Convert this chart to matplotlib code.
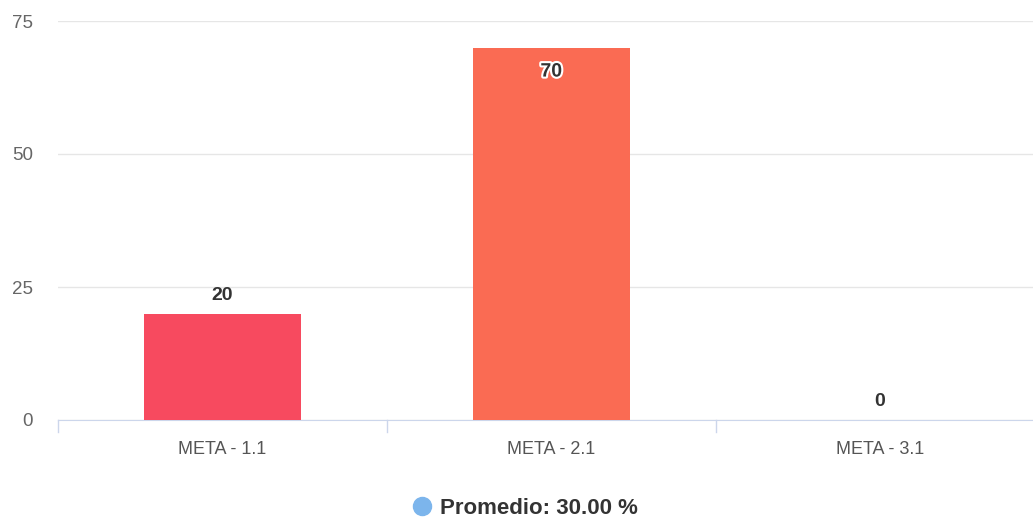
import matplotlib.pyplot as plt
import matplotlib.patheffects as pe
from matplotlib.lines import Line2D

categories = ['META - 1.1', 'META - 2.1', 'META - 3.1']
values = [20, 70, 0]
bar_colors = ['#f74a5f', '#fa6b53', '#f7a35c']
y_ticks = [0, 25, 50, 75]
legend_label = 'Promedio: 30.00 %'

plt.rcParams['font.family'] = ['Liberation Sans', 'DejaVu Sans']

fig = plt.figure(figsize=(10.33, 5.17), dpi=100)
ax = fig.add_axes([58 / 1033, 97 / 517, 1 - 58 / 1033, 399 / 517])

x = list(range(len(categories)))
ax.bar(x, values, width=0.477, color=bar_colors, zorder=3)

ax.set_ylim(0, 75)
ax.set_xlim(-0.5, 2.465)
ax.set_yticks(y_ticks)
ax.set_xticks(x)
ax.set_xticklabels(categories, fontsize=13, color='#555555')
ax.tick_params(axis='x', length=0, pad=15)
ax.tick_params(axis='y', length=0, labelsize=13.5, labelcolor='#666666', pad=18)

# category boundary ticks
for b in [-0.5, 0.5, 1.5]:
    ax.plot([b, b], [0, -2.3], color='#ccd6eb', lw=1, clip_on=False, zorder=2)

ax.grid(axis='y', color='#e6e6e6', lw=1, zorder=0)
for s in ['top', 'right', 'left']:
    ax.spines[s].set_visible(False)
ax.spines['bottom'].set_color('#ccd6eb')

for xi, v in zip(x, values):
    if v > 50:
        ax.text(xi, v - 3.0, str(v), ha='center', va='top', fontsize=14,
                fontweight='bold', color='#333333',
                path_effects=[pe.withStroke(linewidth=3, foreground='white')])
    else:
        ax.text(xi, v + 1.8, str(v), ha='center', va='bottom', fontsize=14,
                fontweight='bold', color='#333333')

handle = Line2D([], [], marker='o', ls='', markersize=13,
                markerfacecolor='#7cb5ec', markeredgecolor='#7cb5ec')
fig.legend([handle], [legend_label], loc='center', bbox_to_anchor=(524 / 1033, 1 - 508 / 517),
           frameon=False, prop={'size': 16, 'weight': 'bold'}, labelcolor='#333333',
           handlelength=1.0, handletextpad=0.3, borderpad=0)

fig.savefig('out.png', dpi=100)
